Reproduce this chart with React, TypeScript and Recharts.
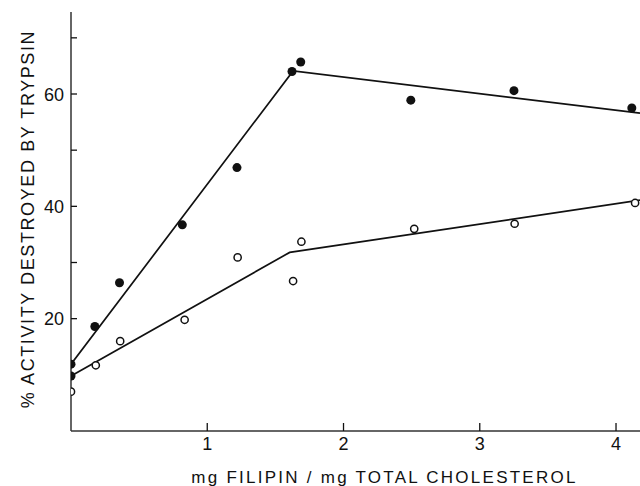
import { ComposedChart, Line, Scatter, XAxis, YAxis } from "recharts";

// filled circles
const filledX = [0, 0, 0.175, 0.356, 0.817, 1.218, 1.622, 1.686, 2.494, 3.251, 4.116];
const filledY = [11.9, 9.8, 18.6, 26.4, 36.7, 46.9, 64.0, 65.7, 58.9, 60.6, 57.5];

// open circles
const openX = [0, 0.182, 0.361, 0.834, 1.223, 1.63, 1.691, 2.519, 3.256, 4.14];
const openY = [7.0, 11.7, 16.0, 19.8, 30.9, 26.7, 33.7, 36.0, 36.9, 40.6];

// drawn fit lines
const fitFilledX = [0, 1.63, 4.176];
const fitFilledY = [11.9, 64.1, 56.6];
const fitOpenX = [0, 1.605, 4.176];
const fitOpenY = [9.8, 31.8, 41.1];

const xTicks = [1, 2, 3, 4];
const yTicks = [20, 30, 40, 50, 60, 70];
const yLabeled = [20, 40, 60];

const toPoints = (xs: number[], ys: number[]) =>
	xs.map((x, i) => ({ x, y: ys[i] }));

const filled = toPoints(filledX, filledY);
const open = toPoints(openX, openY);
const fitFilled = toPoints(fitFilledX, fitFilledY);
const fitOpen = toPoints(fitOpenX, fitOpenY);

const FONT = "'Liberation Sans', Arial, sans-serif";
const INK = "#111";

function XTick(props: any) {
	const { x, y, payload } = props;
	return (
		<g>
			<line x1={x} y1={y} x2={x} y2={y - 8} stroke={INK} strokeWidth={1.3} />
			<text
				x={x}
				y={y + 19}
				textAnchor='middle'
				fontFamily={FONT}
				fontSize={18}
				fill={INK}
			>
				{payload.value}
			</text>
		</g>
	);
}

function YTick(props: any) {
	const { x, y, payload } = props;
	return (
		<g>
			<line x1={x} y1={y} x2={x + 6} y2={y} stroke={INK} strokeWidth={1.3} />
			{yLabeled.includes(payload.value) && (
				<text
					x={x - 7}
					y={y + 6.5}
					textAnchor='end'
					fontFamily={FONT}
					fontSize={18}
					fill={INK}
				>
					{payload.value}
				</text>
			)}
		</g>
	);
}

function FilledDot(props: any) {
	return <circle cx={props.cx} cy={props.cy} r={4.5} fill={INK} />;
}

function OpenDot(props: any) {
	return (
		<circle
			cx={props.cx}
			cy={props.cy}
			r={3.6}
			fill='#fff'
			stroke={INK}
			strokeWidth={1.5}
		/>
	);
}

export default function App() {
	return (
		<div
			style={{
				position: "absolute",
				left: 0,
				top: 0,
				width: 640,
				height: 486,
				background: "#fff",
			}}
		>
			<ComposedChart
				width={640}
				height={486}
				margin={{ top: 12, right: 0, bottom: 0, left: 0 }}
			>
				<XAxis
					type='number'
					dataKey='x'
					domain={[0, 4.176]}
					ticks={xTicks}
					allowDataOverflow
					height={55}
					tickSize={0}
					tickMargin={0}
					tickLine={false}
					tick={<XTick />}
					axisLine={{ stroke: "#333", strokeWidth: 1.5 }}
					label={{
						content: (p: any) => {
							const vb = p.viewBox;
							return (
								<text
									x={vb.x + vb.width / 2 + 29}
									y={vb.y + 52}
									textAnchor='middle'
									fontFamily={FONT}
									fontSize={17}
									letterSpacing={2.25}
									fill={INK}
								>
									mg FILIPIN / mg TOTAL CHOLESTEROL
								</text>
							);
						},
					}}
				/>
				<YAxis
					type='number'
					domain={[0, 74.6]}
					ticks={yTicks}
					allowDataOverflow
					width={71}
					tickSize={0}
					tickMargin={0}
					tickLine={false}
					tick={<YTick />}
					axisLine={{ stroke: "#333", strokeWidth: 1.5 }}
					label={{
						content: (p: any) => {
							const vb = p.viewBox;
							const cx = vb.x + 34;
							const cy = 219;
							return (
								<text
									x={cx}
									y={cy}
									transform={`rotate(-90 ${cx} ${cy})`}
									textAnchor='middle'
									fontFamily={FONT}
									fontSize={18}
									letterSpacing={1.6}
									fill={INK}
								>
									% ACTIVITY DESTROYED BY TRYPSIN
								</text>
							);
						},
					}}
				/>
				<Line
					data={fitFilled}
					dataKey='y'
					stroke={INK}
					strokeWidth={1.7}
					dot={false}
					activeDot={false}
					isAnimationActive={false}
				/>
				<Line
					data={fitOpen}
					dataKey='y'
					stroke={INK}
					strokeWidth={1.7}
					dot={false}
					activeDot={false}
					isAnimationActive={false}
				/>
				<Scatter
					data={open}
					dataKey='y'
					shape={<OpenDot />}
					isAnimationActive={false}
				/>
				<Scatter
					data={filled}
					dataKey='y'
					shape={<FilledDot />}
					isAnimationActive={false}
				/>
			</ComposedChart>
		</div>
	);
}
